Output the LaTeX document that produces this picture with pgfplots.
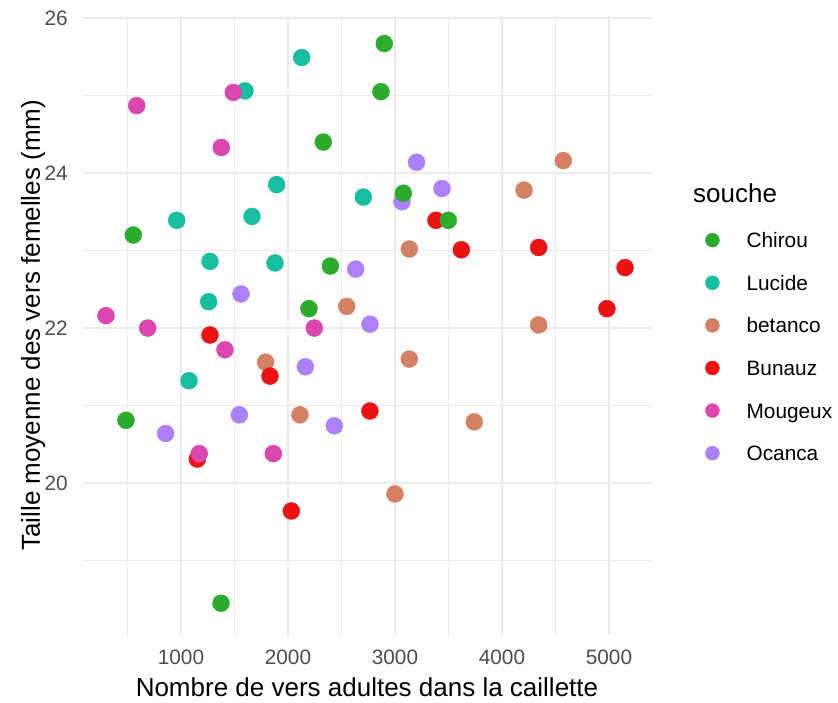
\documentclass[border=0pt]{standalone}
\usepackage{fontspec}
\setmainfont{Liberation Sans}
\usepackage{pgfplots}
\pgfplotsset{compat=1.18}
\definecolor{cChirou}{RGB}{44,172,44}
\definecolor{cLucide}{RGB}{24,190,160}
\definecolor{cBetanco}{RGB}{212,128,98}
\definecolor{cBunauz}{RGB}{236,18,18}
\definecolor{cMougeux}{RGB}{220,70,175}
\definecolor{cOcanca}{RGB}{172,128,248}
\definecolor{gridc}{RGB}{235,235,235}
\definecolor{tickc}{RGB}{77,77,77}
\begin{document}
\begin{tikzpicture}
\useasboundingbox (0pt,0pt) rectangle (838pt,702pt);
\begin{axis}[
  at={(82pt,67pt)}, anchor=south west,
  scale only axis, width=570pt, height=619.3pt,
  xmin=75, xmax=5402, ymin=18.04, ymax=26.03,
  axis line style={draw=none},
  tick style={draw=none},
  major tick length=0pt, minor tick length=0pt,
  xtick={1000,2000,3000,4000,5000}, ytick={20,22,24,26},
  minor xtick={500,1500,2500,3500,4500}, minor ytick={19,21,23,25},
  grid=both,
  major grid style={color=gridc, line width=1.4pt},
  minor grid style={color=gridc, line width=0.9pt},
  /pgf/number format/assume math mode=true,
  /pgf/number format/set thousands separator={},
  xticklabel style={font=\fontsize{20.8}{24}\selectfont, text=tickc, inner sep=0pt, anchor=north, yshift=-14.5pt},
  yticklabel style={font=\fontsize{20.8}{24}\selectfont, text=tickc, inner sep=0pt, anchor=east, xshift=-14pt},
  xlabel={Nombre de vers adultes dans la caillette},
  ylabel={Taille moyenne des vers femelles (mm)},
  xlabel style={font=\fontsize{26}{30}\selectfont, at={(axis description cs:0.5,-0.1001)}, anchor=base, inner sep=0pt},
  ylabel style={font=\fontsize{26}{30}\selectfont, at={(axis description cs:-0.0737,0.5)}, anchor=base, inner sep=0pt},
  legend style={at={(axis description cs:1.093,0.6532)}, anchor=north west, draw=none, fill=none, inner sep=0pt,
    row sep=23.6pt, column sep=27pt, font=\fontsize{20.8}{24}\selectfont,
    nodes={inner sep=0pt, text height=17pt, text depth=2pt}, cells={anchor=west}},
  legend image code/.code={\fill (0pt,0pt) circle (7pt);},
  clip=false,
]
\addlegendimage{cChirou}
\addlegendentry{Chirou}
\addlegendimage{cLucide}
\addlegendentry{Lucide}
\addlegendimage{cBetanco}
\addlegendentry{betanco}
\addlegendimage{cBunauz}
\addlegendentry{Bunauz}
\addlegendimage{cMougeux}
\addlegendentry{Mougeux}
\addlegendimage{cOcanca}
\addlegendentry{Ocanca}

% Lucide
\addplot[forget plot, only marks, mark=*, mark size=8.5pt, color=cLucide, mark options={draw=cLucide, fill=cLucide}] coordinates {
(2128,25.49) (1598,25.06) (1894,23.85) (2704,23.69) (960,23.39) (1664,23.44) (1271,22.86) (1879,22.84) (1259,22.34) (1075,21.32)};
% betanco
\addplot[forget plot, only marks, mark=*, mark size=8.5pt, color=cBetanco, mark options={draw=cBetanco, fill=cBetanco}] coordinates {
(3134,23.02) (2549,22.28) (4573,24.16) (4206,23.78) (4343,22.04) (1791,21.56) (3134,21.60) (2112,20.88) (3000,19.86) (3741,20.79)};
% Bunauz
\addplot[forget plot, only marks, mark=*, mark size=8.5pt, color=cBunauz, mark options={draw=cBunauz, fill=cBunauz}] coordinates {
(3383,23.39) (3620,23.01) (4343,23.04) (5150,22.78) (4981,22.25) (1271,21.91) (1832,21.38) (2766,20.93) (1153,20.31) (2031,19.64)};
% Ocanca
\addplot[forget plot, only marks, mark=*, mark size=8.5pt, color=cOcanca, mark options={draw=cOcanca, fill=cOcanca}] coordinates {
(3202,24.14) (3439,23.80) (3065,23.63) (2633,22.76) (1561,22.44) (2766,22.05) (2162,21.50) (1545,20.88) (2433,20.74) (857,20.64)};
% Chirou
\addplot[forget plot, only marks, mark=*, mark size=8.5pt, color=cChirou, mark options={draw=cChirou, fill=cChirou}] coordinates {
(2900,25.67) (2869,25.05) (2330,24.40) (3078,23.74) (554,23.20) (2396,22.80) (2196,22.25) (3498,23.39) (486,20.81) (1374,18.45)};
% Mougeux
\addplot[forget plot, only marks, mark=*, mark size=8.5pt, color=cMougeux, mark options={draw=cMougeux, fill=cMougeux}] coordinates {
(586,24.87) (1489,25.04) (1377,24.33) (299,22.16) (689,22.00) (2246,22.00) (1411,21.72) (1171,20.38) (1863,20.38)};
\end{axis}
\node[anchor=west, inner sep=0pt, font=\fontsize{26}{30}\selectfont] at (693pt,509pt) {souche};
\end{tikzpicture}
\end{document}
